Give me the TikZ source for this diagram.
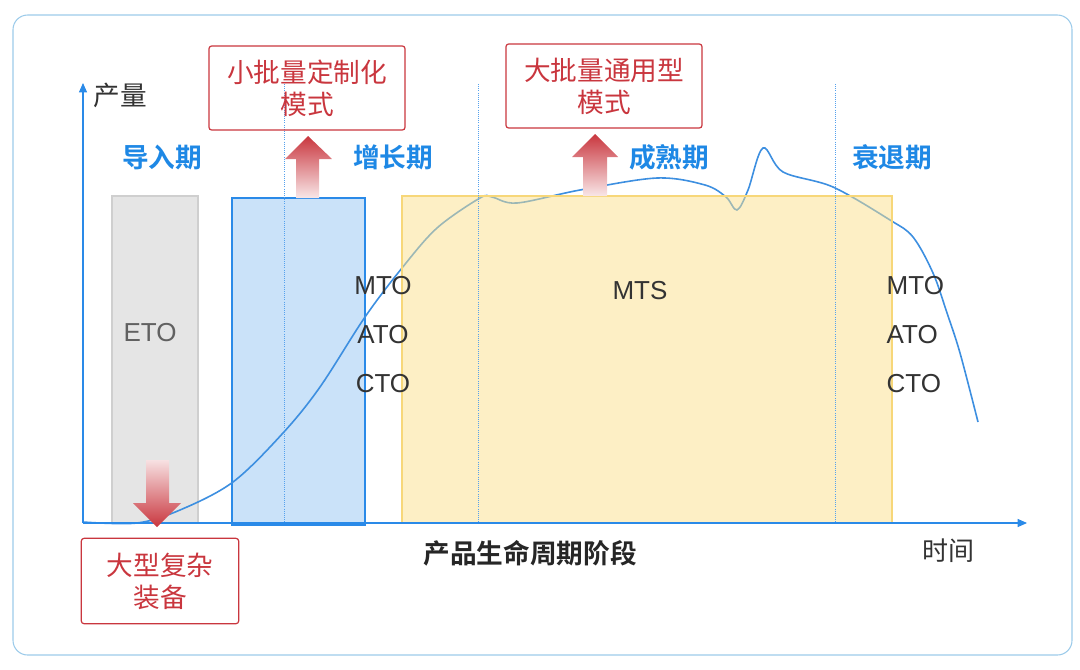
\documentclass[tikz,border=0pt]{standalone}
\usepackage{fontspec}
\setmainfont{Liberation Sans}
\newfontfamily\cjk{Noto Sans CJK SC}[BoldFont=* Bold]
\usepackage{xcolor}
\usepackage{tikz}
\usetikzlibrary{arrows.meta,positioning,calc}

\definecolor{framebl}{HTML}{9CCBEA}
\definecolor{axisbl}{HTML}{2A8AE8}
\definecolor{curvebl}{HTML}{3D8FE0}
\definecolor{phasebl}{HTML}{1E88E5}
\definecolor{modered}{HTML}{C9363E}
\definecolor{txtgray}{HTML}{333333}
\definecolor{zoneyel}{HTML}{FBDF8C}
\definecolor{zoneyelb}{HTML}{F7D779}

\begin{document}
\begin{tikzpicture}[
  x=0.75pt, y=-0.75pt, >=Stealth,
  axis/.style={-{Triangle[length=7pt,width=6pt]}, axisbl, line width=0.8pt},
  divider/.style={densely dotted, axisbl!80, line width=0.6pt},
  phase/.style={font=\cjk\bfseries\fontsize{20}{24}\selectfont, text=phasebl},
  mode/.style={draw=modered, rounded corners=2pt, line width=0.9pt, text=modered, align=center, font=\cjk\fontsize{20}{24}\selectfont, minimum width=147pt, minimum height=63pt},
  strat/.style={font=\fontsize{19.5}{22}\selectfont, text=txtgray}
]
\useasboundingbox (0,0) rectangle (1080,669);

% frame
\draw[framebl, line width=0.8pt, rounded corners=11pt] (13,15) rectangle (1072,655);

% strategy zones
\filldraw[fill=black!10, draw=black!19, line width=0.8pt] (112,196) rectangle (198,523);
\filldraw[fill=axisbl!25, draw=axisbl, line width=1.2pt] (232,198) rectangle (365,525);

% output curve
\draw[curvebl, line width=1.2pt] plot[smooth, tension=0.55] coordinates {
  (83,522) (137,523) (180,510) (233,482) (283,433) (320,387) (365,317)
  (402,268) (437,228) (480,198) (492,197) (517,203) (580,190) (657,178)
  (705,185) (726,197) (737,210) (748,190) (763,148) (783,172) (833,187)
  (890,220) (913,237) (933,273) (947,313) (960,353) (978,422)};

\filldraw[fill=zoneyel, fill opacity=0.5, draw=zoneyelb, line width=0.8pt] (402,196) rectangle (892,523);

% phase dividers
\foreach \px in {284,478,835}
  \draw[divider] (\px,84) -- (\px,523);

% axes
\coordinate (O) at (83,523);
\coordinate (ytip) at (83,83);
\coordinate (xtip) at (1027,523);
\draw[axis] (O) -- (ytip);
\draw[axis] (O) -- (xtip);
\node[font=\cjk\fontsize{20}{24}\selectfont, text=txtgray] (ylab) at (120,95) {产量};
\node[font=\cjk\fontsize{19.5}{24}\selectfont, text=txtgray] (xlab) at (948,551) {时间};
\node[font=\cjk\bfseries\fontsize{20}{24}\selectfont, text=black!85] (title) at (530,553) {产品生命周期阶段};

% phases
\node[phase] (intro) at (162,157) {导入期};
\node[phase] (growth) at (393,157) {增长期};
\node[phase] (mature) at (669,157) {成熟期};
\node[phase] (decline) at (892,157) {衰退期};

% strategies
\node[strat, text=black!62] (eto) at (150,333) {ETO};
\node[strat] (mts) at (640,291) {MTS};
\node[strat] (mto1) at (383,286) {MTO};
\node[strat] (ato1) at (383,335) {ATO};
\node[strat] (cto1) at (383,384) {CTO};
\node[strat, anchor=west] (mto2) at (882,286) {MTO};
\node[strat, anchor=west] (ato2) at (882,335) {ATO};
\node[strat, anchor=west] (cto2) at (882,384) {CTO};

% production modes
\node[mode] (small) at (307,88) {小批量定制化\\模式};
\node[mode] (large) at (604,86) {大批量通用型\\模式};
\node[mode, minimum width=118pt, minimum height=64pt] (heavy) at (160,581) {大型复杂\\装备};

% gradient arrows
\shade[top color=modered, bottom color=modered!12] (296,198) -- (296,159) -- (285,159) -- (308,136) -- (332,159) -- (319,159) -- (319,198) -- cycle;
\shade[top color=modered, bottom color=modered!12] (583,196) -- (583,157) -- (572,157) -- (595,134) -- (618,157) -- (607,157) -- (607,196) -- cycle;
\shade[top color=modered!15, bottom color=modered] (146,460) -- (146,503) -- (133,503) -- (157,527) -- (181,503) -- (169,503) -- (169,460) -- cycle;

\end{tikzpicture}
\end{document}
